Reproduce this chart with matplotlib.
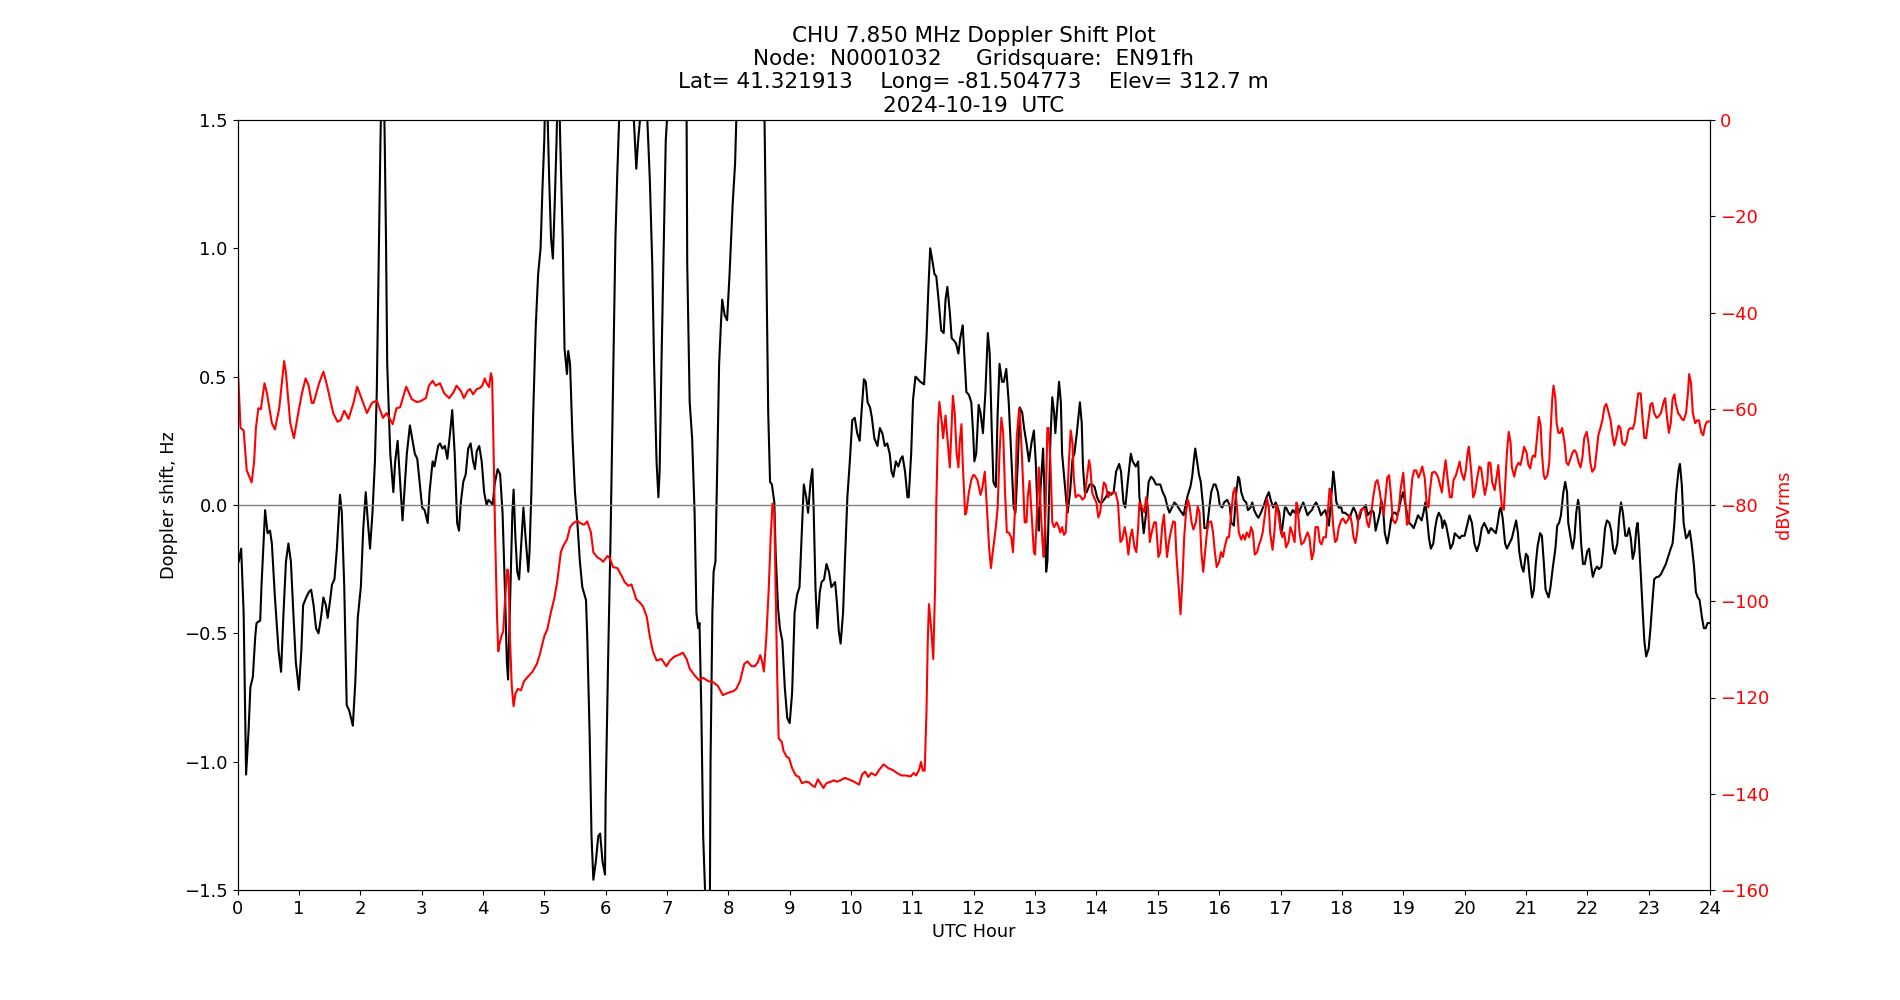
import matplotlib
matplotlib.use("Agg")
import matplotlib.pyplot as plt

# Plot text
title_text = ("CHU 7.850 MHz Doppler Shift Plot\n"
              "Node:  N0001032     Gridsquare:  EN91fh\n"
              "Lat= 41.321913    Long= -81.504773    Elev= 312.7 m\n"
              "2024-10-19  UTC")
hour_ticks = list(range(0, 25))

# Doppler shift (Hz) vs UTC hour
doppler_hours = [
    0.02, 0.06, 0.10, 0.14, 0.18, 0.21, 0.25, 0.29, 0.31, 0.37, 0.39, 0.45, 0.49, 0.53, 0.56, 0.61,
    0.67, 0.71, 0.75, 0.79, 0.83, 0.87, 0.91, 0.95, 1.00, 1.04, 1.07, 1.12, 1.16, 1.20, 1.24, 1.28,
    1.32, 1.36, 1.40, 1.44, 1.47, 1.51, 1.54, 1.58, 1.62, 1.67, 1.70, 1.74, 1.78, 1.82, 1.88, 1.92,
    1.96, 2.01, 2.05, 2.09, 2.12, 2.16, 2.20, 2.24, 2.27, 2.30, 2.33, 2.37, 2.40, 2.42, 2.44, 2.49,
    2.54, 2.57, 2.61, 2.64, 2.69, 2.72, 2.76, 2.81, 2.86, 2.89, 2.93, 2.96,
    3.01, 3.05, 3.10, 3.13, 3.18, 3.21, 3.27, 3.30, 3.34, 3.38, 3.42, 3.46, 3.50, 3.54, 3.58, 3.61,
    3.64, 3.68, 3.72, 3.76, 3.80, 3.84, 3.87, 3.90, 3.94, 3.98, 4.02, 4.06, 4.09, 4.13, 4.16, 4.19,
    4.24, 4.28, 4.32, 4.36, 4.39, 4.41, 4.44, 4.48, 4.50, 4.53, 4.56, 4.59, 4.63, 4.66, 4.69, 4.74,
    4.76, 4.79, 4.82, 4.86, 4.90, 4.94, 4.97, 5.00, 5.03, 5.08, 5.11, 5.14, 5.17, 5.20, 5.23, 5.26,
    5.30, 5.33, 5.37, 5.39, 5.42, 5.46, 5.50, 5.54, 5.58, 5.62, 5.68, 5.70, 5.74, 5.77, 5.80, 5.84,
    5.88, 5.91, 5.95, 5.99,
    6.00, 6.04, 6.08, 6.12, 6.16, 6.19, 6.22, 6.34, 6.46, 6.50, 6.53, 6.56, 6.62, 6.68, 6.72, 6.76,
    6.79, 6.83, 6.86, 6.88, 6.91, 6.95, 6.98, 7.00, 7.15, 7.32, 7.33, 7.37, 7.41, 7.45, 7.48, 7.51,
    7.53, 7.56, 7.59, 7.62, 7.65, 7.70, 7.71, 7.74, 7.76, 7.79, 7.82, 7.85, 7.88, 7.90, 7.94, 7.98,
    8.02, 8.07, 8.11, 8.13, 8.37, 8.59, 8.62, 8.65, 8.68, 8.71, 8.75, 8.77, 8.81, 8.84, 8.88, 8.92,
    8.96,
    9.00, 9.04, 9.08, 9.12, 9.16, 9.19, 9.23, 9.27, 9.30, 9.34, 9.37, 9.39, 9.42, 9.45, 9.49, 9.52,
    9.56, 9.60, 9.64, 9.68, 9.74, 9.77, 9.80, 9.83, 9.87, 9.90, 9.94, 9.98, 10.02, 10.06, 10.10, 10.14,
    10.17, 10.21, 10.24, 10.27, 10.31, 10.34, 10.38, 10.43, 10.47, 10.51, 10.55, 10.59, 10.63, 10.66,
    10.69, 10.73, 10.77, 10.81, 10.84, 10.88, 10.92, 10.94, 10.98, 11.01, 11.05, 11.09, 11.13, 11.19,
    11.23, 11.26, 11.29, 11.32, 11.36, 11.39, 11.43, 11.47, 11.51, 11.54, 11.57, 11.61, 11.64, 11.68,
    11.71, 11.75, 11.78, 11.82, 11.85, 11.88, 11.92, 11.96, 11.99,
    12.01, 12.04, 12.08, 12.11, 12.15, 12.19, 12.23, 12.26, 12.29, 12.32, 12.36, 12.39, 12.42, 12.46,
    12.49, 12.53, 12.57, 12.61, 12.65, 12.68, 12.72, 12.75, 12.79, 12.82, 12.86, 12.90, 12.94, 12.98,
    13.01, 13.04, 13.06, 13.09, 13.13, 13.15, 13.18, 13.20, 13.23, 13.25, 13.28, 13.31, 13.33, 13.36,
    13.39, 13.42, 13.44, 13.48, 13.51, 13.53, 13.57, 13.61, 13.64, 13.68, 13.73, 13.76, 13.78, 13.81,
    13.84, 13.89, 13.93, 13.97, 14.01, 14.05, 14.09, 14.15, 14.20, 14.24, 14.28, 14.32, 14.37, 14.40,
    14.44, 14.47, 14.51, 14.56, 14.59, 14.64, 14.68, 14.70, 14.74, 14.77, 14.81, 14.85, 14.89, 14.93,
    14.97,
    15.00, 15.04, 15.08, 15.12, 15.16, 15.19, 15.23, 15.27, 15.31, 15.36, 15.39, 15.42, 15.46, 15.49,
    15.53, 15.56, 15.59, 15.61, 15.64, 15.67, 15.70, 15.74, 15.76, 15.80, 15.84, 15.87, 15.91, 15.94,
    15.98, 16.01, 16.05, 16.08, 16.13, 16.17, 16.20, 16.24, 16.27, 16.31, 16.33, 16.36, 16.40, 16.44,
    16.47, 16.51, 16.54, 16.57, 16.61, 16.64, 16.68, 16.73, 16.77, 16.81, 16.84, 16.88, 16.92, 16.94,
    16.98, 17.01, 17.03, 17.07, 17.09, 17.13, 17.16, 17.20, 17.23, 17.27, 17.30, 17.33, 17.37, 17.40,
    17.44, 17.47, 17.51, 17.55, 17.58, 17.62, 17.66, 17.69, 17.73, 17.76, 17.79, 17.82, 17.86, 17.88,
    17.91, 17.95, 17.99,
    18.01, 18.05, 18.10, 18.13, 18.17, 18.19, 18.23, 18.26, 18.29, 18.32, 18.36, 18.39, 18.42, 18.45,
    18.49, 18.52, 18.55, 18.58, 18.62, 18.64, 18.67, 18.70, 18.74, 18.77, 18.80, 18.83, 18.87, 18.90,
    18.93, 18.96, 19.00, 19.03, 19.06, 19.10, 19.14, 19.17, 19.20, 19.24, 19.27, 19.30, 19.33, 19.36,
    19.38, 19.42, 19.45, 19.49, 19.52, 19.55, 19.58, 19.62, 19.64, 19.67, 19.70, 19.74, 19.77, 19.81,
    19.84, 19.88, 19.92, 19.95, 20.00, 20.04, 20.08, 20.12, 20.16, 20.20, 20.24, 20.28, 20.32, 20.36,
    20.39, 20.43, 20.47, 20.51, 20.54, 20.57, 20.59, 20.62, 20.66, 20.69, 20.73, 20.77, 20.80, 20.84,
    20.87, 20.89, 20.93, 20.96,
    21.00, 21.03, 21.06, 21.10, 21.13, 21.16, 21.19, 21.23, 21.26, 21.29, 21.32, 21.37, 21.40, 21.44,
    21.48, 21.51, 21.54, 21.57, 21.61, 21.64, 21.67, 21.69, 21.73, 21.76, 21.79, 21.82, 21.85, 21.87,
    21.90, 21.93, 21.96, 22.00, 22.03, 22.06, 22.09, 22.13, 22.16, 22.19, 22.23, 22.26, 22.29, 22.32,
    22.36, 22.39, 22.42, 22.45, 22.49, 22.52, 22.55, 22.58, 22.62, 22.65, 22.68, 22.71, 22.74, 22.77,
    22.80, 22.82, 22.84, 22.87, 22.90, 22.93, 22.96, 23.00, 23.03, 23.06, 23.09, 23.13, 23.16, 23.20,
    23.24, 23.28, 23.32, 23.36, 23.39, 23.42, 23.45, 23.49, 23.51, 23.54, 23.57, 23.61, 23.64, 23.67,
    23.70, 23.74, 23.77, 23.80, 23.83, 23.87, 23.90, 23.93, 23.96, 24.00,
]
doppler_hz = [
    -0.22, -0.17, -0.42, -1.05, -0.88, -0.71, -0.67, -0.51, -0.46, -0.45, -0.32, -0.02, -0.11, -0.10, -0.15, -0.36,
    -0.57, -0.65, -0.42, -0.22, -0.15, -0.22, -0.42, -0.61, -0.72, -0.57, -0.39, -0.36, -0.34, -0.33, -0.39, -0.48,
    -0.50, -0.44, -0.36, -0.39, -0.44, -0.37, -0.31, -0.29, -0.17, 0.04, -0.03, -0.32, -0.78, -0.80, -0.86, -0.69,
    -0.44, -0.32, -0.09, 0.05, -0.05, -0.17, -0.03, 0.17, 0.44, 0.94, 1.42, 1.90, 1.41, 1.04, 0.55, 0.20,
    0.05, 0.17, 0.25, 0.13, -0.06, 0.05, 0.20, 0.31, 0.24, 0.20, 0.18, 0.11,
    -0.01, -0.02, -0.07, 0.05, 0.17, 0.15, 0.23, 0.24, 0.22, 0.23, 0.18, 0.27, 0.37, 0.20, -0.07, -0.10,
    0.01, 0.09, 0.12, 0.22, 0.24, 0.17, 0.14, 0.21, 0.23, 0.17, 0.05, 0.00, 0.02, 0.01, 0.00, 0.08,
    0.14, 0.12, -0.03, -0.34, -0.61, -0.68, -0.40, -0.03, 0.06, -0.13, -0.26, -0.29, -0.13, -0.01, -0.11, -0.26,
    -0.18, 0.05, 0.36, 0.69, 0.90, 1.00, 1.23, 1.42, 1.75, 1.27, 1.04, 0.96, 1.17, 1.42, 1.75, 1.42,
    1.04, 0.61, 0.51, 0.60, 0.55, 0.26, 0.05, -0.07, -0.22, -0.32, -0.37, -0.51, -0.90, -1.29, -1.46, -1.39,
    -1.29, -1.28, -1.39, -1.44,
    -1.15, -0.61, -0.13, 0.46, 1.04, 1.29, 1.50, 2.10, 1.50, 1.31, 1.42, 1.50, 2.00, 1.50, 1.27, 0.94,
    0.55, 0.17, 0.03, 0.13, 0.55, 1.04, 1.42, 1.50, 2.20, 1.50, 0.94, 0.40, 0.26, -0.03, -0.42, -0.48,
    -0.46, -0.80, -1.29, -1.50, -1.90, -1.50, -1.00, -0.42, -0.26, -0.22, 0.17, 0.55, 0.71, 0.80, 0.74, 0.72,
    0.90, 1.17, 1.33, 1.50, 2.30, 1.50, 0.94, 0.36, 0.09, 0.08, 0.01, -0.18, -0.40, -0.48, -0.53, -0.71,
    -0.83,
    -0.85, -0.73, -0.42, -0.35, -0.32, -0.15, 0.08, 0.03, -0.03, 0.09, 0.14, -0.01, -0.32, -0.48, -0.34, -0.30,
    -0.29, -0.23, -0.26, -0.32, -0.30, -0.38, -0.49, -0.54, -0.42, -0.22, 0.03, 0.17, 0.33, 0.34, 0.28, 0.25,
    0.36, 0.49, 0.48, 0.40, 0.38, 0.34, 0.26, 0.23, 0.30, 0.28, 0.23, 0.24, 0.20, 0.13,
    0.11, 0.17, 0.15, 0.18, 0.19, 0.13, 0.03, 0.03, 0.20, 0.41, 0.50, 0.49, 0.48, 0.47,
    0.65, 0.84, 1.00, 0.96, 0.90, 0.89, 0.79, 0.68, 0.67, 0.80, 0.85, 0.75, 0.65, 0.64,
    0.63, 0.59, 0.65, 0.70, 0.57, 0.44, 0.43, 0.40, 0.28,
    0.17, 0.20, 0.39, 0.36, 0.28, 0.44, 0.67, 0.59, 0.32, 0.09, 0.07, 0.36, 0.55, 0.48,
    0.48, 0.53, 0.40, 0.20, -0.01, -0.03, 0.18, 0.38, 0.36, 0.30, 0.24, 0.17, 0.24, 0.29,
    0.17, -0.03, -0.10, 0.07, 0.22, 0.07, -0.26, -0.22, 0.05, 0.26, 0.42, 0.36, 0.28, 0.38,
    0.48, 0.40, 0.20, 0.09, 0.01, -0.03, 0.05, 0.18, 0.20, 0.28, 0.40, 0.32, 0.15, 0.05,
    0.05, 0.08, 0.08, 0.07, 0.03, 0.01, 0.01, 0.03, 0.05, 0.04, 0.05, 0.13, 0.16, 0.13,
    0.01, -0.01, 0.09, 0.20, 0.17, 0.15, 0.17, 0.03, -0.03, -0.11, -0.03, 0.09, 0.11, 0.10,
    0.08,
    0.08, 0.08, 0.05, 0.03, -0.01, -0.03, -0.01, 0.01, 0.00, -0.02, -0.03, -0.04, 0.01, 0.04,
    0.07, 0.11, 0.18, 0.22, 0.17, 0.12, 0.09, -0.01, -0.09, -0.09, -0.01, 0.05, 0.08, 0.08,
    0.05, 0.00, -0.01, 0.01, 0.02, 0.00, -0.07, -0.08, 0.03, 0.11, 0.10, 0.05, 0.02, 0.01,
    -0.02, -0.01, 0.01, -0.02, -0.04, -0.05, -0.03, 0.00, 0.03, 0.05, 0.02, -0.01, 0.01, 0.00,
    -0.03, -0.11, -0.09, -0.01, -0.01, -0.03, -0.04, -0.02, -0.03, -0.01, -0.03, -0.01, 0.01, -0.01,
    -0.04, -0.03, -0.02, 0.00, 0.01, -0.01, -0.04, -0.03, -0.02, -0.05, -0.08, 0.01, 0.13, 0.09,
    0.01, -0.01, -0.01,
    -0.03, -0.03, -0.04, -0.05, -0.02, -0.01, -0.03, -0.06, -0.05, -0.02, -0.01, 0.00, -0.04, -0.03,
    -0.02, -0.03, -0.10, -0.07, -0.03, 0.02, -0.01, -0.11, -0.15, -0.11, -0.06, -0.03, -0.03, -0.04,
    -0.02, 0.02, 0.05, 0.01, -0.03, -0.07, -0.08, -0.09, -0.07, -0.04, -0.05, -0.06, -0.03, 0.01,
    -0.03, -0.13, -0.17, -0.15, -0.09, -0.05, -0.03, -0.05, -0.09, -0.06, -0.08, -0.13, -0.17, -0.15,
    -0.11, -0.12, -0.13, -0.12, -0.12, -0.08, -0.04, -0.07, -0.15, -0.18, -0.15, -0.09, -0.07, -0.09,
    -0.11, -0.09, -0.10, -0.11, -0.07, -0.02, -0.01, -0.05, -0.15, -0.17, -0.15, -0.13, -0.10, -0.06,
    -0.11, -0.18, -0.24, -0.26,
    -0.19, -0.20, -0.28, -0.36, -0.33, -0.23, -0.16, -0.11, -0.12, -0.22, -0.33, -0.36, -0.32, -0.24,
    -0.17, -0.08, -0.07, -0.04, 0.05, 0.09, 0.05, -0.07, -0.13, -0.17, -0.13, -0.03, 0.02, -0.01,
    -0.15, -0.23, -0.23, -0.18, -0.17, -0.23, -0.28, -0.25, -0.24, -0.25, -0.24, -0.17, -0.09, -0.06,
    -0.07, -0.10, -0.17, -0.19, -0.15, -0.05, 0.01, -0.03, -0.12, -0.12, -0.09, -0.13, -0.21, -0.18,
    -0.09, -0.07, -0.13, -0.26, -0.40, -0.53, -0.59, -0.56, -0.48, -0.38, -0.29, -0.28, -0.28, -0.27,
    -0.25, -0.23, -0.20, -0.17, -0.15, -0.07, 0.05, 0.14, 0.16, 0.08, -0.07, -0.13, -0.12, -0.10,
    -0.15, -0.24, -0.34, -0.36, -0.37, -0.44, -0.48, -0.48, -0.46, -0.46,
]

# Received signal level (dBVrms) vs UTC hour
power_hours = [
    0.00, 0.05, 0.10, 0.15, 0.23, 0.27, 0.30, 0.34, 0.38, 0.44, 0.48, 0.56, 0.61, 0.68, 0.76, 0.79,
    0.86, 0.92, 0.99, 1.05, 1.11, 1.16, 1.21, 1.24, 1.33, 1.40, 1.46, 1.56, 1.63, 1.68, 1.74, 1.81,
    1.89, 1.95, 2.02, 2.11, 2.19, 2.27, 2.37, 2.43, 2.53, 2.59, 2.65, 2.75, 2.84, 2.92, 2.97,
    3.07, 3.12, 3.18, 3.23, 3.30, 3.37, 3.45, 3.52, 3.57, 3.64, 3.69, 3.75, 3.79, 3.84, 3.90, 3.95,
    3.99, 4.03, 4.06, 4.10, 4.13, 4.15, 4.17, 4.20, 4.23, 4.25, 4.27, 4.30, 4.33, 4.37, 4.40, 4.42,
    4.44, 4.47, 4.50, 4.53, 4.57, 4.62, 4.67, 4.74, 4.81, 4.88, 4.93, 5.00, 5.05, 5.11, 5.16, 5.21,
    5.27, 5.31, 5.37, 5.42, 5.47, 5.54, 5.59, 5.65, 5.70, 5.76, 5.80, 5.86, 5.92, 5.96,
    6.03, 6.07, 6.12, 6.19, 6.26, 6.31, 6.37, 6.42, 6.46, 6.50, 6.56, 6.61, 6.67, 6.72, 6.77, 6.83,
    6.91, 6.99, 7.05, 7.12, 7.18, 7.26, 7.32, 7.37, 7.45, 7.52, 7.59, 7.67, 7.75, 7.83, 7.91, 8.00,
    8.08, 8.13, 8.19, 8.26, 8.31, 8.38, 8.43, 8.48, 8.52, 8.55, 8.58, 8.62, 8.66, 8.69, 8.72, 8.75,
    8.77, 8.80, 8.82, 8.87, 8.90, 8.95, 8.99,
    9.04, 9.10, 9.15, 9.20, 9.26, 9.31, 9.37, 9.41, 9.46, 9.50, 9.55, 9.60, 9.67, 9.72, 9.77, 9.83,
    9.90, 9.96, 10.05, 10.13, 10.18, 10.23, 10.28, 10.33, 10.40, 10.46, 10.53, 10.61, 10.67, 10.75,
    10.82, 10.89, 10.97, 11.02, 11.06, 11.11, 11.14, 11.17, 11.20, 11.23, 11.25, 11.27, 11.31, 11.34,
    11.37, 11.39, 11.42, 11.44, 11.48, 11.50, 11.54, 11.57, 11.61, 11.63, 11.66, 11.69, 11.72, 11.75,
    11.77, 11.80, 11.82, 11.86, 11.88, 11.92, 11.96, 11.99,
    12.01, 12.06, 12.11, 12.14, 12.18, 12.21, 12.25, 12.28, 12.31, 12.36, 12.39, 12.42, 12.45, 12.48,
    12.51, 12.54, 12.57, 12.61, 12.64, 12.67, 12.70, 12.74, 12.76, 12.79, 12.83, 12.86, 12.88, 12.91,
    12.94, 12.98, 13.00, 13.03, 13.06, 13.09, 13.12, 13.14, 13.17, 13.20, 13.22, 13.25, 13.28, 13.31,
    13.35, 13.38, 13.41, 13.44, 13.47, 13.50, 13.52, 13.55, 13.58, 13.61, 13.63, 13.66, 13.70, 13.74,
    13.77, 13.81, 13.84, 13.88, 13.90, 13.93, 13.96, 14.00, 14.03, 14.06, 14.09, 14.12, 14.15, 14.19,
    14.23, 14.27, 14.31, 14.35, 14.39, 14.42, 14.46, 14.49, 14.52, 14.55, 14.58, 14.62, 14.65, 14.68,
    14.70, 14.74, 14.78, 14.81, 14.84, 14.87, 14.90, 14.94, 14.97,
    15.01, 15.04, 15.07, 15.10, 15.12, 15.15, 15.18, 15.21, 15.25, 15.28, 15.30, 15.34, 15.37, 15.40,
    15.43, 15.46, 15.49, 15.52, 15.55, 15.58, 15.62, 15.65, 15.68, 15.71, 15.74, 15.77, 15.80, 15.83,
    15.87, 15.90, 15.93, 15.96, 16.00, 16.03, 16.06, 16.09, 16.13, 16.16, 16.19, 16.23, 16.26, 16.29,
    16.32, 16.36, 16.39, 16.42, 16.45, 16.49, 16.52, 16.55, 16.58, 16.62, 16.65, 16.68, 16.71, 16.75,
    16.78, 16.81, 16.83, 16.87, 16.90, 16.93, 16.96, 17.00, 17.03, 17.06, 17.09, 17.13, 17.16, 17.19,
    17.23, 17.26, 17.28, 17.31, 17.34, 17.38, 17.41, 17.44, 17.47, 17.51, 17.54, 17.57, 17.61, 17.64,
    17.67, 17.70, 17.74, 17.77, 17.80, 17.82, 17.86, 17.89, 17.92, 17.95, 17.99,
    18.02, 18.06, 18.10, 18.13, 18.16, 18.19, 18.22, 18.25, 18.27, 18.31, 18.35, 18.38, 18.41, 18.44,
    18.48, 18.51, 18.55, 18.58, 18.62, 18.65, 18.68, 18.71, 18.74, 18.77, 18.80, 18.83, 18.87, 18.90,
    18.93, 18.96, 19.00, 19.03, 19.06, 19.09, 19.12, 19.15, 19.18, 19.21, 19.25, 19.28, 19.31, 19.35,
    19.38, 19.41, 19.44, 19.47, 19.51, 19.54, 19.57, 19.61, 19.63, 19.66, 19.69, 19.73, 19.76, 19.79,
    19.82, 19.86, 19.89, 19.92, 19.95, 19.99, 20.02, 20.05, 20.07, 20.11, 20.14, 20.17, 20.20, 20.24,
    20.27, 20.30, 20.33, 20.37, 20.39, 20.42, 20.45, 20.49, 20.52, 20.55, 20.57, 20.61, 20.64, 20.66,
    20.69, 20.72, 20.75, 20.77, 20.81, 20.84, 20.88, 20.91, 20.94, 20.97,
    21.01, 21.04, 21.07, 21.10, 21.12, 21.15, 21.18, 21.21, 21.24, 21.26, 21.29, 21.31, 21.35, 21.38,
    21.40, 21.43, 21.45, 21.48, 21.50, 21.53, 21.56, 21.59, 21.63, 21.66, 21.69, 21.73, 21.76, 21.79,
    21.82, 21.86, 21.89, 21.92, 21.95, 21.99, 22.02, 22.05, 22.08, 22.12, 22.15, 22.18, 22.21, 22.25,
    22.28, 22.31, 22.34, 22.38, 22.41, 22.44, 22.47, 22.51, 22.54, 22.57, 22.61, 22.64, 22.67, 22.70,
    22.74, 22.77, 22.80, 22.83, 22.87, 22.90, 22.93, 22.96, 23.00, 23.03, 23.06, 23.09, 23.13, 23.16,
    23.20, 23.25, 23.27, 23.30, 23.33, 23.36, 23.39, 23.42, 23.44, 23.48, 23.51, 23.54, 23.57, 23.61,
    23.64, 23.66, 23.69, 23.72, 23.76, 23.79, 23.82, 23.86, 23.89, 23.92, 23.95, 24.00,
]
power_dbv = [
    -50.0, -64.0, -64.5, -72.8, -75.3, -71.2, -64.0, -59.9, -60.1, -54.7, -56.8, -63.0, -64.3, -59.9, -50.1, -52.6,
    -63.0, -66.1, -60.9, -56.8, -53.7, -55.2, -58.8, -58.8, -54.7, -52.3, -55.2, -60.9, -62.7, -62.4, -60.4, -62.1,
    -58.8, -55.4, -57.8, -60.9, -58.8, -58.3, -61.9, -60.9, -63.2, -59.9, -59.7, -55.4, -58.0, -58.6, -58.5,
    -57.8, -55.2, -54.2, -55.2, -54.7, -56.8, -57.8, -56.6, -55.2, -56.3, -57.8, -56.3, -55.9, -57.0, -55.9, -55.7,
    -55.2, -53.7, -54.7, -55.5, -52.6, -53.7, -66.1, -86.7, -103.2, -110.4, -108.9, -107.3, -106.3, -98.0, -93.4, -94.9,
    -107.3, -117.6, -121.8, -119.2, -118.2, -118.5, -116.6, -115.6, -114.6, -113.0, -110.9, -107.3, -105.8, -102.2, -99.6, -96.0,
    -89.8, -88.5, -87.2, -84.6, -83.8, -83.3, -83.8, -84.1, -83.4, -85.7, -89.8, -90.8, -91.3, -91.8,
    -90.6, -91.1, -92.9, -93.1, -94.7, -96.0, -96.8, -96.5, -98.0, -99.6, -100.3, -101.1, -103.2, -107.3, -110.4, -112.3,
    -112.0, -113.5, -112.3, -111.5, -111.2, -110.7, -112.0, -114.0, -115.4, -116.4, -115.9, -116.6, -116.8, -117.6, -119.5, -119.0,
    -118.7, -118.2, -116.6, -113.0, -112.5, -113.5, -113.5, -112.7, -111.2, -112.5, -114.6, -107.3, -97.0, -86.7, -79.7, -81.5,
    -97.0, -117.6, -128.5, -129.2, -131.1, -132.3, -132.6,
    -134.7, -136.2, -136.5, -137.8, -137.5, -137.6, -138.3, -138.6, -137.0, -137.8, -138.8, -137.8, -137.5, -137.2, -137.5, -137.2,
    -136.7, -137.0, -137.5, -138.1, -136.0, -135.4, -136.5, -135.7, -136.2, -135.0, -133.9, -134.7, -135.0, -135.7,
    -136.2, -136.2, -136.4, -135.7, -136.2, -135.0, -133.4, -135.2, -135.2, -122.8, -108.4, -100.6, -106.3, -112.0,
    -97.0, -79.5, -63.0, -58.6, -63.0, -66.1, -61.4, -66.1, -72.2, -66.1, -57.3, -60.9, -69.2, -72.2,
    -67.1, -63.2, -71.2, -82.0, -81.5, -77.4, -74.8, -73.8,
    -73.8, -74.8, -77.9, -76.4, -73.1, -79.5, -88.8, -93.1, -89.8, -84.6, -80.5, -69.2, -61.9, -65.0,
    -77.4, -85.7, -85.7, -86.7, -89.8, -81.5, -66.1, -59.9, -63.0, -71.2, -83.6, -83.6, -78.4, -75.0,
    -81.5, -89.8, -90.3, -81.5, -72.2, -80.5, -87.7, -90.8, -81.5, -64.0, -64.0, -71.2, -83.6, -84.6,
    -83.6, -84.4, -85.7, -84.6, -86.2, -85.7, -80.5, -71.2, -64.5, -67.1, -74.3, -78.4, -77.9, -78.2,
    -78.9, -78.4, -74.8, -70.7, -72.2, -77.4, -78.4, -79.5, -82.6, -81.5, -78.4, -75.3, -75.8, -78.4,
    -77.6, -77.4, -77.4, -79.5, -87.7, -87.2, -84.6, -86.7, -90.3, -86.7, -85.1, -88.8, -89.8, -84.6,
    -79.5, -80.5, -81.5, -78.4, -80.5, -87.7, -85.7, -83.6, -83.6,
    -90.8, -89.8, -84.6, -82.0, -85.7, -90.8, -87.7, -85.7, -83.4, -83.6, -89.8, -97.0, -102.7, -96.0,
    -86.7, -81.5, -78.9, -80.5, -83.6, -85.1, -83.6, -80.3, -81.5, -89.8, -93.9, -89.8, -85.7, -83.6,
    -83.4, -85.7, -89.8, -92.9, -91.8, -89.8, -90.8, -88.8, -86.7, -86.7, -82.6, -77.4, -76.4, -80.5,
    -85.7, -87.2, -86.2, -87.2, -85.7, -86.7, -84.6, -85.7, -90.3, -89.8, -88.2, -87.2, -85.7, -81.5,
    -78.7, -80.5, -85.7, -89.3, -85.7, -80.0, -81.5, -85.1, -86.7, -85.7, -88.8, -87.7, -84.6, -85.7,
    -87.7, -79.5, -80.5, -85.7, -88.2, -87.7, -86.7, -85.7, -86.7, -91.3, -89.8, -84.6, -84.6, -87.7,
    -88.2, -86.7, -86.7, -81.5, -76.6, -77.4, -84.6, -87.7, -87.2, -84.6, -83.1,
    -82.8, -83.8, -83.1, -82.0, -83.6, -86.7, -87.9, -85.7, -82.6, -81.0, -80.7, -81.0, -83.6, -84.6,
    -81.5, -78.4, -75.3, -74.8, -77.4, -80.5, -82.0, -78.4, -74.3, -73.8, -77.9, -83.1, -83.8, -82.8,
    -80.5, -76.4, -73.3, -78.4, -84.1, -83.6, -78.4, -74.3, -72.8, -72.8, -74.3, -73.3, -72.0, -74.3,
    -79.5, -80.5, -76.4, -73.3, -73.1, -73.5, -74.3, -76.4, -77.4, -73.8, -70.7, -75.3, -78.4, -78.4,
    -74.8, -73.8, -72.4, -71.0, -73.3, -74.8, -72.8, -69.1, -67.9, -73.3, -78.4, -77.4, -74.8, -72.0,
    -72.4, -75.3, -77.9, -75.3, -71.2, -71.2, -75.3, -76.9, -74.3, -71.7, -75.3, -80.5, -81.0, -76.4,
    -69.1, -64.8, -67.1, -72.2, -74.1, -72.2, -71.2, -71.7, -70.0, -67.9,
    -69.1, -71.7, -72.4, -70.2, -69.7, -70.0, -66.1, -61.7, -63.5, -69.1, -73.8, -74.6, -73.8, -71.2,
    -65.0, -57.8, -55.2, -57.8, -63.0, -65.0, -65.0, -64.0, -67.1, -71.2, -71.7, -70.2, -69.1, -68.6,
    -69.1, -71.2, -72.2, -70.2, -66.1, -64.8, -67.1, -71.2, -73.1, -72.4, -69.1, -65.5, -64.2, -62.1,
    -59.6, -59.0, -60.4, -62.4, -65.5, -67.6, -66.1, -63.5, -64.0, -67.1, -67.6, -66.6, -64.5, -64.0,
    -64.2, -63.0, -59.9, -56.8, -56.8, -61.9, -66.1, -66.1, -61.9, -59.1, -58.8, -60.9, -61.9, -61.6,
    -60.9, -58.3, -57.8, -61.9, -65.0, -63.0, -58.0, -57.0, -58.8, -60.9, -61.4, -62.1, -62.4, -60.9,
    -56.8, -52.8, -54.7, -60.9, -63.0, -62.4, -62.4, -65.0, -65.5, -63.5, -62.7, -62.6,
]

plt.rcParams['font.size'] = 13

fig, ax1 = plt.subplots(figsize=(19, 10), dpi=100)

# Doppler on the left axis
ax1.plot(doppler_hours, doppler_hz, color='black', linewidth=1.5)
ax1.axhline(0, color='grey', linewidth=1)
ax1.set_xlim(0, 24)
ax1.set_ylim(-1.5, 1.5)
ax1.set_xticks(hour_ticks)
ax1.set_xlabel('UTC Hour', fontsize=12.7)
ax1.set_ylabel('Doppler shift, Hz', fontsize=12.7)
ax1.set_title(title_text, fontsize=15.5)

# signal level on the right axis
ax2 = ax1.twinx()
ax2.plot(power_hours, power_dbv, color='red', linewidth=1.5)
ax2.set_ylim(-160, 0)
ax2.set_ylabel('dBVrms', color='red', fontsize=12.7)
ax2.tick_params(axis='y', labelcolor='red')

fig.savefig('out.png')
